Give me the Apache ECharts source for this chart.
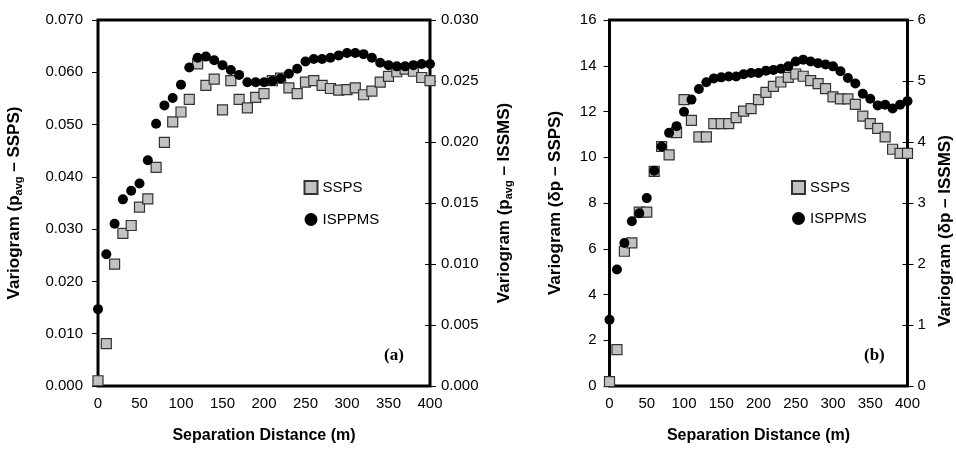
<!DOCTYPE html>
<html><head><meta charset="utf-8">
<script src="https://cdn.jsdelivr.net/npm/echarts@6/dist/echarts.min.js"></script>
<style>html,body{margin:0;padding:0;background:#fff}#c{width:956px;height:449px}</style>
</head><body><div id="c"></div>
<script>
// Separation distance (m)
const distance = [0,10,20,30,40,50,60,70,80,90,100,110,120,130,140,150,160,170,180,190,200,
  210,220,230,240,250,260,270,280,290,300,310,320,330,340,350,360,370,380,390,400];
// Panel (a): Variogram (p_avg) — SSPS on left axis, ISPPMS on right axis
const sspsA = [0.0010,0.0081,0.0233,0.0292,0.0307,0.0342,0.0358,0.0418,0.0466,0.0505,0.0524,
  0.0548,0.0616,0.0575,0.0587,0.0528,0.0584,0.0548,0.0532,0.0552,0.0559,0.0584,0.0589,0.0570,
  0.0559,0.0581,0.0584,0.0575,0.0569,0.0566,0.0567,0.0570,0.0557,0.0564,0.0581,0.0592,0.0601,
  0.0606,0.0602,0.0590,0.0584];
const isppmsA = [0.0063,0.0108,0.0133,0.0153,0.0160,0.0166,0.0185,0.0215,0.0230,0.0236,0.0247,
  0.0261,0.0269,0.0270,0.0267,0.0263,0.0259,0.0255,0.0249,0.0249,0.0249,0.0250,0.0252,0.0256,
  0.0260,0.0266,0.0268,0.0268,0.0269,0.0271,0.0273,0.0273,0.0272,0.0269,0.0265,0.0263,0.0262,
  0.0262,0.0263,0.0264,0.0264];
// Panel (b): Variogram (δp) — SSPS on left axis, ISPPMS on right axis
const sspsB = [0.19,1.59,5.89,6.26,7.60,7.60,9.38,10.47,10.10,11.08,12.52,11.61,10.89,10.89,
  11.47,11.47,11.47,11.73,12.02,12.13,12.52,12.84,13.10,13.29,13.49,13.64,13.54,13.35,13.22,
  13.00,12.64,12.55,12.55,12.31,11.80,11.47,11.26,10.89,10.35,10.17,10.17];
const isppmsB = [1.085,1.91,2.345,2.70,2.83,3.08,3.53,3.925,4.15,4.26,4.495,4.695,4.87,4.98,
  5.04,5.06,5.075,5.075,5.11,5.13,5.13,5.17,5.18,5.20,5.24,5.32,5.35,5.32,5.29,5.27,5.24,5.16,
  5.05,4.96,4.79,4.71,4.60,4.61,4.55,4.61,4.67];
const seriesNames = ['SSPS','ISPPMS'];

const pair = (vals) => distance.map((d, i) => [d, vals[i]]);
const FONT = 'Liberation Sans, Arial, Helvetica, sans-serif';
const lbl = (margin, fmt) => ({show:true, color:'#000', fontFamily:FONT, fontSize:15, margin, formatter:fmt});
const titleRich = {
  n:{fontFamily:FONT, fontWeight:'bold', fontSize:17, color:'#000'},
  s:{fontFamily:FONT, fontWeight:'bold', fontSize:11, color:'#000', verticalAlign:'bottom', padding:[8,0,0,0]}
};
const f3 = v => v.toFixed(3);
const f0 = v => String(Math.round(v));

function yAx(grid, pos, min, max, interval, fmt, margin, name, gap, pad, extra) {
  return Object.assign({
    type:'value', gridIndex:grid, position:pos, min, max, interval,
    axisLine:{show:false}, splitLine:{show:false},
    axisTick:{show:true, length:6, lineStyle:{color:'#000', width:1}},
    axisLabel:lbl(margin, fmt),
    name, nameLocation:'middle', nameGap:gap, nameRotate:90,
    nameTextStyle:{rich:titleRich, padding:pad||0}
  }, extra||{});
}
function yInner(grid, min, max, interval) {
  return {type:'value', gridIndex:grid, position:'right', min, max, interval,
    axisLine:{show:false}, splitLine:{show:false}, axisLabel:{show:false},
    axisTick:{show:true, inside:true, length:5, lineStyle:{color:'#000', width:1}}};
}
function xAx(grid) {
  return {type:'value', gridIndex:grid, min:0, max:400, interval:50,
    axisLine:{show:false}, splitLine:{show:false}, axisTick:{show:false},
    axisLabel:lbl(10, f0),
    name:'Separation Distance (m)', nameLocation:'middle', nameGap:42,
    nameTextStyle:{fontFamily:FONT, fontWeight:'bold', fontSize:16, color:'#000'}};
}
const sq = {color:'#c2c2c2', borderColor:'#333', borderWidth:1.2, opacity:1};
const ci = {color:'#000', opacity:1};
function sc(name, xi, yi, vals, style, sym, z) {
  return {type:'scatter', name, xAxisIndex:xi, yAxisIndex:yi, data:pair(vals),
    symbol:sym, symbolSize:10, itemStyle:style, clip:false, z, emphasis:{disabled:true}};
}

const chart = echarts.init(document.getElementById('c'), null, {renderer:'canvas'});
chart.setOption({
  animation:false,
  backgroundColor:'#fff',
  grid:[
    {left:98, top:20, width:332, height:368.5, show:true, borderColor:'#000', borderWidth:3},
    {left:609.5, top:20, width:298, height:368.5, show:true, borderColor:'#000', borderWidth:3}
  ],
  xAxis:[xAx(0), xAx(1)],
  yAxis:[
    yAx(0,'left',0,0.07,0.01,f3,15,'{n|Variogram (p}{s|avg}{n| – SSPS)}',74),
    yAx(0,'right',0,0.03,0.005,f3,11,'{n|Variogram (p}{s|avg}{n| – ISSMS)}',65),
    yInner(0,0,0.03,0.005),
    yAx(1,'left',0,16,2,f0,13,'{n|Variogram (δp – SSPS)}',46),
    yAx(1,'right',0,6,1,f0,10,'{n|Variogram (δp – ISSMS)}',29,[0,56,0,0]),
    yInner(1,0,6,1)
  ],
  legend:[
    {data:seriesNames, orient:'vertical', left:303.5, top:180, padding:0, itemWidth:13, itemHeight:13, itemGap:17,
      selectedMode:false, textStyle:{fontFamily:FONT, fontSize:15, color:'#000'}},
    {data:seriesNames, orient:'vertical', left:791, top:180, padding:0, itemWidth:13, itemHeight:13, itemGap:16,
      selectedMode:false, textStyle:{fontFamily:FONT, fontSize:15, color:'#000'}}
  ],
  series:[
    sc('SSPS',0,0,sspsA,sq,'rect',2),
    sc('ISPPMS',0,1,isppmsA,ci,'circle',3),
    sc('SSPS',1,3,sspsB,sq,'rect',2),
    sc('ISPPMS',1,4,isppmsB,ci,'circle',3)
  ],
  graphic:[
    {type:'text', left:384, top:347, style:{text:'(a)', font:'bold 17px "Liberation Serif", "Times New Roman", serif', fill:'#000'}},
    {type:'text', left:864, top:347, style:{text:'(b)', font:'bold 17px "Liberation Serif", "Times New Roman", serif', fill:'#000'}}
  ]
});
</script></body></html>
